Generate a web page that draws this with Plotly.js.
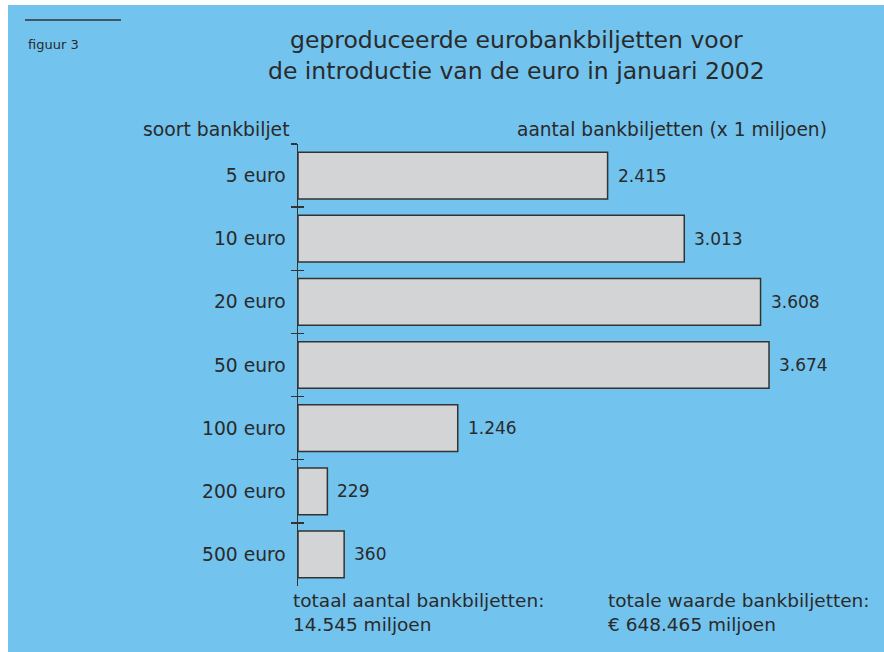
<!DOCTYPE html>
<html>
<head>
<meta charset="utf-8">
<script src="https://cdn.plot.ly/plotly-3.0.1.min.js"></script>
<style>html,body{margin:0;padding:0;background:#fff;}#chart{width:884px;height:652px;}</style>
</head>
<body>
<div id="chart"></div>
<script>
const categories = ["5 euro", "10 euro", "20 euro", "50 euro", "100 euro", "200 euro", "500 euro"];
const counts = [2415, 3013, 3608, 3674, 1246, 229, 360];
const titleLines = ["geproduceerde eurobankbiljetten voor", "de introductie van de euro in januari 2002"];
const figLabel = "figuur 3";
const leftHeader = "soort bankbiljet";
const rightHeader = "aantal bankbiljetten (x 1 miljoen)";
const totalCountText = ["totaal aantal bankbiljetten:", "14.545 miljoen"];
const totalValueText = ["totale waarde bankbiljetten:", "€ 648.465 miljoen"];

const W = 884, H = 652;
const L = 298, R = 9, T = 144, B = 66;
const pw = W - L - R, ph = H - T - B;
const px = x => (x - L) / pw;
const py = y => (H - B - y) / ph;

const BLUE = "#72c3ee";
const INK = "#2a2a2a";
const FONT = "DejaVu Sans, sans-serif";

const fmt = v => v.toLocaleString("de-DE");

const traces = [
  {
    type: "bar", orientation: "h",
    x: counts, y: categories,
    width: 0.74,
    marker: {color: "#d3d4d6", line: {color: "#333333", width: 1.5}},
    hoverinfo: "skip"
  },
  {
    type: "scatter", mode: "markers",
    x: counts, y: categories, yaxis: "y2",
    marker: {opacity: 0}, hoverinfo: "skip", showlegend: false
  }
];

const annotations = [
  {text: titleLines.join("<br>"), x: px(516), y: py(55), xref: "paper", yref: "paper",
   showarrow: false, xanchor: "center", yanchor: "middle", align: "center",
   font: {family: FONT, size: 23.5, color: INK}},
  {text: figLabel, x: px(26), y: py(45), xref: "paper", yref: "paper", showarrow: false,
   xanchor: "left", yanchor: "middle", font: {family: FONT, size: 13, color: INK}},
  {text: leftHeader, x: px(292), y: py(130), xref: "paper", yref: "paper", showarrow: false,
   xanchor: "right", yanchor: "middle", font: {family: FONT, size: 18.8, color: INK}},
  {text: rightHeader, x: px(829), y: py(130), xref: "paper", yref: "paper", showarrow: false,
   xanchor: "right", yanchor: "middle", font: {family: FONT, size: 18.6, color: INK}},
  {text: totalCountText.join("<br>"), x: px(291), y: py(612), xref: "paper", yref: "paper", showarrow: false,
   xanchor: "left", yanchor: "middle", align: "left", font: {family: FONT, size: 18.5, color: INK}},
  {text: totalValueText.join("<br>"), x: px(606), y: py(612), xref: "paper", yref: "paper", showarrow: false,
   xanchor: "left", yanchor: "middle", align: "left", font: {family: FONT, size: 18.5, color: INK}}
];
counts.forEach((v, i) => {
  annotations.push({
    text: fmt(v), x: v, y: categories[i], xref: "x", yref: "y",
    showarrow: false, xanchor: "left", yanchor: "middle", xshift: 8,
    font: {family: FONT, size: 17, color: INK}
  });
});

const shapes = [
  {type: "rect", xref: "paper", yref: "paper", layer: "below",
   x0: px(8), x1: px(W + 5), y0: py(H + 5), y1: py(5),
   fillcolor: BLUE, line: {width: 0}},
  {type: "line", xref: "paper", yref: "paper",
   x0: px(25), x1: px(121), y0: py(20), y1: py(20),
   line: {color: "#333333", width: 1.5}}
];

const layout = {
  width: W, height: H,
  margin: {l: L, r: R, t: T, b: B, pad: 0},
  paper_bgcolor: "#ffffff", plot_bgcolor: "rgba(0,0,0,0)",
  separators: ",.",
  showlegend: false,
  xaxis: {range: [0, pw / 0.1282], visible: false, fixedrange: true},
  yaxis: {
    type: "category", categoryorder: "array", categoryarray: categories,
    range: [6.5, -0.5],
    showline: true, linecolor: "#333333", linewidth: 1.5,
    ticks: "outside", ticklen: 6, tickwidth: 1.5, tickcolor: "#333333",
    tickson: "boundaries", showgrid: false, zeroline: false,
    tickfont: {family: FONT, size: 18.7, color: INK},
    ticklabelstandoff: 7
  },
  yaxis2: {
    type: "category", categoryorder: "array", categoryarray: categories,
    overlaying: "y", side: "left", range: [6.5, -0.5],
    ticks: "inside", ticklen: 6, tickwidth: 1.5, tickcolor: "#333333",
    tickson: "boundaries", showgrid: false, showticklabels: false, showline: false, zeroline: false
  },
  annotations: annotations,
  shapes: shapes
};

Plotly.newPlot("chart", traces, layout, {staticPlot: true, displayModeBar: false});
</script>
</body>
</html>
